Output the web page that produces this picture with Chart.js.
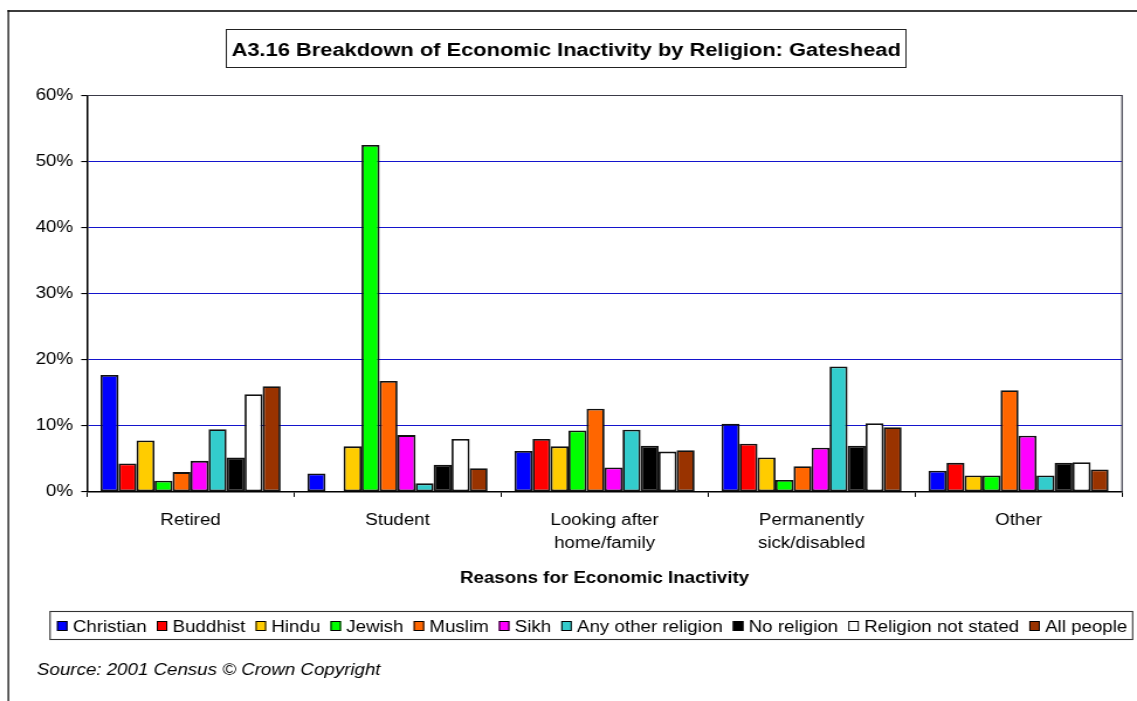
<!DOCTYPE html>
<html>
<head>
<meta charset="utf-8">
<script src="https://cdn.jsdelivr.net/npm/chart.js@4.4.1/dist/chart.umd.min.js"></script>
<style>
  html, body { margin: 0; padding: 0; background: #fff; overflow: hidden; }
  /* chart is laid out on a narrower canvas and widened to the full window */
  #wrap { position: absolute; left: 0; top: 0; width: 972px; height: 701px;
          transform: scaleX(1.169753); transform-origin: 0 0; }
</style>
</head>
<body>
<div id="wrap"><canvas id="c" width="972" height="701"></canvas></div>
<script>
// Reasons for economic inactivity (x categories)
const categories = ['Retired', 'Student', ['Looking after', 'home/family'], ['Permanently', 'sick/disabled'], 'Other'];

// Share of economically inactive people in each religious group (%)
const christian  = [17.7,  2.8,  6.2, 10.3,  3.2];
const buddhist   = [ 4.3,  0.0,  8.0,  7.3,  4.4];
const hindu      = [ 7.8,  6.9,  6.9,  5.2,  2.5];
const jewish     = [ 1.7, 52.5,  9.3,  1.8,  2.5];
const muslim     = [ 3.0, 16.8, 12.6,  3.9, 15.4];
const sikh       = [ 4.7,  8.6,  3.7,  6.7,  8.5];
const anyOther   = [ 9.5,  1.3,  9.4, 19.0,  2.5];
const noReligion = [ 5.2,  4.1,  7.0,  7.0,  4.4];
const notStated  = [14.8,  8.0,  6.1, 10.4,  4.5];
const allPeople  = [16.0,  3.6,  6.3,  9.8,  3.4];

// Series names and y-axis tick values
const seriesNames = ['Christian', 'Buddhist', 'Hindu', 'Jewish', 'Muslim', 'Sikh',
                     'Any other religion', 'No religion', 'Religion not stated', 'All people'];
const yTicks = [0, 10, 20, 30, 40, 50, 60];

const chartTitle = 'A3.16 Breakdown of Economic Inactivity by Religion: Gateshead';
const xAxisTitle = 'Reasons for Economic Inactivity';
const sourceNote = 'Source: 2001 Census \u00A9 Crown Copyright';

const seriesValues = [christian, buddhist, hindu, jewish, muslim, sikh, anyOther, noReligion, notStated, allPeople];
const seriesColors = ['#0000FF', '#FF0000', '#FFCC00', '#00FF00', '#FF6600',
                      '#FF00FF', '#33CCCC', '#000000', '#FFFFFF', '#993300'];

const FONT = '"Liberation Sans", Arial, sans-serif';
const GRID_BLUE = '#1414CC';
const FRAME = '#3a3a48';

// Page edge, plot frame, title box, legend box and source note
const decorations = {
  id: 'decorations',
  beforeDraw(chart) {
    const ctx = chart.ctx;
    ctx.save();
    ctx.fillStyle = '#fff';
    ctx.fillRect(0, 0, chart.width, chart.height);
    ctx.restore();
  },
  afterDraw(chart) {
    const ctx = chart.ctx;
    const a = chart.chartArea;
    ctx.save();

    // page edges
    ctx.strokeStyle = '#3c3c3c';
    ctx.lineWidth = 2;
    ctx.beginPath(); ctx.moveTo(6.5, 11); ctx.lineTo(chart.width, 11); ctx.stroke();
    ctx.strokeStyle = '#000';
    ctx.lineWidth = 1.2;
    ctx.beginPath(); ctx.moveTo(7.1, 10); ctx.lineTo(7.1, chart.height); ctx.stroke();

    // plot frame (top and right)
    ctx.strokeStyle = FRAME;
    ctx.lineWidth = 1.2;
    ctx.beginPath();
    ctx.moveTo(a.left, a.top); ctx.lineTo(a.right, a.top); ctx.lineTo(a.right, a.bottom);
    ctx.stroke();

    // title in a box
    ctx.strokeStyle = '#222';
    ctx.lineWidth = 1;
    ctx.strokeRect(193.5, 29.5, 581, 38);
    ctx.fillStyle = '#000';
    ctx.font = 'bold 18.7px ' + FONT;
    ctx.textAlign = 'center';
    ctx.textBaseline = 'alphabetic';
    ctx.fillText(chartTitle, 484, 56);

    // legend
    ctx.strokeStyle = '#333';
    ctx.lineWidth = 1.1;
    ctx.strokeRect(42.8, 611.5, 925.5, 28);
    ctx.font = '16px ' + FONT;
    ctx.textAlign = 'left';
    let x = 48.7;
    chart.data.datasets.forEach(ds => {
      ctx.fillStyle = ds.backgroundColor;
      ctx.fillRect(x, 621, 9, 10);
      ctx.strokeStyle = '#000';
      ctx.lineWidth = 1;
      ctx.strokeRect(x + 0.5, 621.5, 8, 9);
      ctx.fillStyle = '#000';
      const tx = x + 9 + 4.5;
      ctx.fillText(ds.label, tx, 632);
      x = tx + ctx.measureText(ds.label).width + 8.7;
    });

    // source note
    ctx.font = 'italic 16px ' + FONT;
    ctx.fillText(sourceNote, 31.6, 675);
    ctx.restore();
  }
};

const datasets = seriesNames.map((name, i) => ({
  label: name,
  data: seriesValues[i],
  backgroundColor: seriesColors[i],
  borderColor: '#111',
  borderWidth: 1.8,
  borderSkipped: false,
  categoryPercentage: 0.87,
  barPercentage: 1.0
}));

new Chart(document.getElementById('c'), {
  type: 'bar',
  data: { labels: categories, datasets },
  plugins: [decorations],
  options: {
    responsive: false,
    animation: false,
    devicePixelRatio: 1,
    layout: { padding: { left: 23.4, right: 12.8, top: 95.5, bottom: 112.8 } },
    plugins: {
      legend: { display: false },
      title: { display: false },
      tooltip: { enabled: false }
    },
    scales: {
      x: {
        grid: {
          display: true,
          offset: true,
          drawOnChartArea: false,
          drawTicks: true,
          tickLength: 5,
          tickColor: '#000',
          tickWidth: 1
        },
        border: { display: true, color: '#000', width: 1.5 },
        ticks: {
          color: '#000',
          padding: 12,
          maxRotation: 0,
          autoSkip: false,
          font: { family: FONT, size: 16, lineHeight: 1.44 }
        },
        title: {
          display: true,
          text: xAxisTitle,
          color: '#000',
          padding: { top: 2, bottom: 0 },
          font: { family: FONT, size: 16, weight: 'bold', lineHeight: 1.2 }
        }
      },
      y: {
        min: 0,
        max: 60,
        afterBuildTicks: scale => { scale.ticks = yTicks.map(v => ({ value: v })); },
        grid: {
          color: yTicks.map(v => (v === 60 ? FRAME : GRID_BLUE)),
          lineWidth: 1.1,
          drawTicks: true,
          tickLength: 5,
          tickColor: '#000'
        },
        border: { display: true, color: '#000', width: 1.5 },
        ticks: {
          color: '#000',
          padding: 7,
          font: { family: FONT, size: 16 },
          callback: v => v + '%'
        }
      }
    }
  }
});
</script>
</body>
</html>
